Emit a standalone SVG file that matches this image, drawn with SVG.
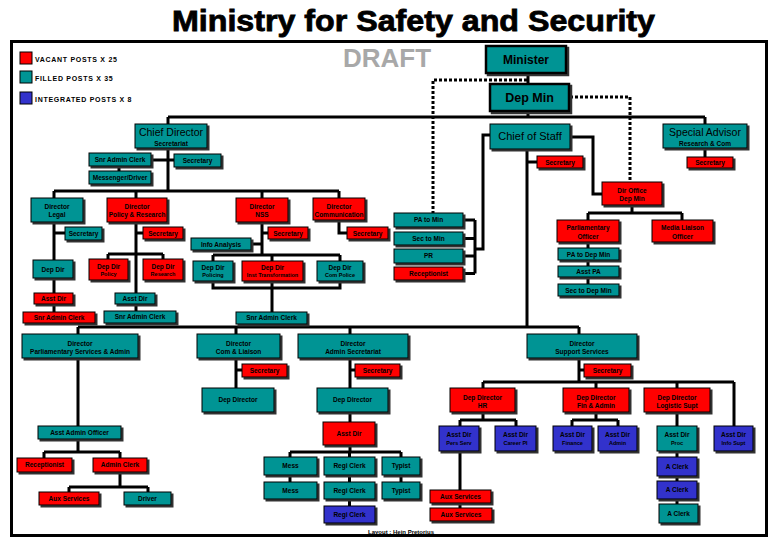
<svg xmlns="http://www.w3.org/2000/svg" width="780" height="540" viewBox="0 0 780 540">
<defs>
<filter id="ds" x="-10%" y="-10%" width="130%" height="150%">
<feDropShadow dx="2" dy="2" stdDeviation="0.3" flood-color="#333" flood-opacity="1"/>
</filter>
</defs>
<style>
.b{stroke:#000;stroke-width:1;filter:url(#ds)}
.r{fill:#ff0000}
.g{fill:#009494}
.u{fill:#3333cc}
.th{stroke-width:2.5}
.t{font-family:"Liberation Sans",Arial,sans-serif;font-weight:bold;font-size:6.5px;text-anchor:middle;fill:#000}
.s{font-size:5.5px}
.m{font-size:6.5px}
.big{font-weight:normal;font-size:10.5px}
.hd{font-size:12px}
.lg{font-family:"Liberation Sans",Arial,sans-serif;font-weight:bold;font-size:7px;letter-spacing:0.7px;fill:#000}
.ln{fill:none;stroke:#000;stroke-width:3;stroke-linejoin:miter}
.dt{fill:none;stroke:#000;stroke-width:3;stroke-dasharray:3 2}
</style>
<rect width="780" height="540" fill="#fff"/>
<text x="413.5" y="31" textLength="483" lengthAdjust="spacingAndGlyphs" font-family="'Liberation Sans',Arial,sans-serif" font-weight="bold" font-size="29" stroke="#000" stroke-width="0.8" text-anchor="middle">Ministry for Safety and Security</text>
<rect x="11.5" y="41.5" width="755" height="494" fill="none" stroke="#000" stroke-width="3"/>
<text x="343" y="67" font-family="'Liberation Sans',Arial,sans-serif" font-weight="bold" font-size="26" fill="#a8a8a8">DRAFT</text>
<g id="legend">
<rect x="20" y="52" width="12" height="12" class="r" stroke="#000"/>
<text x="35" y="62" class="lg">VACANT POSTS X 25</text>
<rect x="20" y="71" width="12" height="12" class="g" stroke="#000"/>
<text x="35" y="81" class="lg">FILLED POSTS X 35</text>
<rect x="20" y="92" width="12" height="12" class="u" stroke="#000"/>
<text x="35" y="102" class="lg">INTEGRATED POSTS X 8</text>
</g>
<g id="connectors">
<path class="dt" d="M527,80 H433 V213 M570,97 H630 V182"/>
<path class="ln" d="M528,73 V84 M528,111 V117 M168,117 H705 M168,117 V124 M705,117 V124
M490,135 H483 V249 H475 M475,220 V273.5 M463,220 H475 M463,238.5 H475 M463,256 H475 M463,273.5 H475
M527,149 V327 M527,162 H537 M570,137 H593 V194 H602
M632,205 V213 M588,213 H682 M588,213 V220 M682,213 V220 M588,242 V284 M705,148 V157
M168,148 V191 M151,160 H174 M119,166 V171
M54,191 H339 M54,191 V198 M136,191 V198 M262,191 V198 M339,191 V198
M54,222 V312 M54,233 H65
M136,222 V311 M136,233 H143 M108,254 H163 M108,254 V259 M163,254 V259
M262,222 V255 M262,233 H268 M251,244 H262 M213,255 H340 M213,255 V261 M272,255 V261 M340,255 V261
M213,281 V288 H340 V281 M272,281 V312
M339,220 V233 H347
M78,327 H579 M78,327 V334 M236,327 V334 M350,327 V334 M579,327 V334
M78,358 V452 M44,452 H120 M44,452 V458 M120,452 V487 M69,487 H148 M69,487 V492 M148,487 V492
M236,358 V388 M236,370 H242
M350,358 V452 M350,370 H355 M290,452 H401 M290,452 V482 M349.5,452 V506 M401,452 V482
M579,358 V382 M579,370 H584 M483,382 H734 M483,382 V420 M596,382 V420 M677,382 V504 M734,382 V426
M460,420 H516 M460,420 V508 M516,420 V426 M572,420 H618 M572,420 V426 M618,420 V426"/>
</g>
<g id="minister"><rect class="b g th" x="486" y="46" width="80" height="27"/><text class="t hd" x="526" y="64">Minister</text></g>
<g id="depmin"><rect class="b g th" x="490" y="84" width="79" height="27"/><text class="t hd" style="font-size:12.5px" x="529.5" y="102">Dep Min</text></g>
<g id="chiefdir"><rect class="b g" x="135" y="124" width="72" height="24"/><text class="t big" x="171" y="136">Chief Director</text><text class="t m" x="171" y="145.5">Secretariat</text></g>
<g id="cos"><rect class="b g" x="490" y="124" width="80" height="25"/><text class="t big" style="font-size:11px" x="530" y="140">Chief of Staff</text></g>
<g id="specadv"><rect class="b g" x="663" y="124" width="84" height="24"/><text class="t big" x="705" y="136">Special Advisor</text><text class="t m" x="705" y="145.5">Research &amp; Com</text></g>
<g id="cd-sac"><rect class="b g" x="89" y="153" width="62" height="13"/><text class="t" x="120" y="162">Snr Admin Clerk</text></g>
<g id="cd-sec"><rect class="b g" x="174" y="154" width="47" height="13"/><text class="t" x="197.5" y="163">Secretary</text></g>
<g id="cd-msg"><rect class="b g" x="89" y="171" width="62" height="13"/><text class="t" x="120" y="180">Messenger/Driver</text></g>
<g id="cos-sec"><rect class="b r" x="537" y="156" width="46" height="12"/><text class="t" x="560" y="164.5">Secretary</text></g>
<g id="sa-sec"><rect class="b r" x="687" y="157" width="46" height="11"/><text class="t" x="710" y="165">Secretary</text></g>
<g id="dir-office"><rect class="b r" x="602" y="182" width="60" height="23"/><text class="t" x="632" y="192.5">Dir Office</text><text class="t" x="632" y="200.5">Dep Min</text></g>
<g id="dir-legal"><rect class="b g" x="31" y="198" width="52" height="24"/><text class="t" x="57" y="209">Director</text><text class="t" x="57" y="217">Legal</text></g>
<g id="dir-policy"><rect class="b r" x="107" y="198" width="60" height="24"/><text class="t" x="137" y="209">Director</text><text class="t" x="137" y="217">Policy &amp; Research</text></g>
<g id="dir-nss"><rect class="b r" x="236" y="198" width="52" height="24"/><text class="t" x="262" y="209">Director</text><text class="t" x="262" y="217">NSS</text></g>
<g id="dir-comm"><rect class="b r" x="313" y="198" width="52" height="22"/><text class="t" x="339" y="208.5">Director</text><text class="t" x="339" y="216.5">Communication</text></g>
<g id="legal-sec"><rect class="b g" x="65" y="227" width="37" height="13"/><text class="t" x="83.5" y="236">Secretary</text></g>
<g id="policy-sec"><rect class="b r" x="143" y="227" width="40" height="12"/><text class="t" x="163" y="235.5">Secretary</text></g>
<g id="nss-sec"><rect class="b r" x="268" y="227" width="40" height="12"/><text class="t" x="288" y="235.5">Secretary</text></g>
<g id="comm-sec"><rect class="b r" x="347" y="227" width="41" height="12"/><text class="t" x="367.5" y="235.5">Secretary</text></g>
<g id="info-analysis"><rect class="b g" x="191" y="238" width="60" height="12"/><text class="t" x="221" y="246.5">Info Analysis</text></g>
<g id="pa-min"><rect class="b g" x="394" y="213" width="69" height="14"/><text class="t" x="428.5" y="222.3">PA to Min</text></g>
<g id="sec-min"><rect class="b g" x="394" y="232" width="69" height="13"/><text class="t" x="428.5" y="240.8">Sec to Min</text></g>
<g id="pr"><rect class="b g" x="394" y="249" width="69" height="14"/><text class="t" x="428.5" y="258.3">PR</text></g>
<g id="recep-min"><rect class="b r" x="394" y="267" width="69" height="13"/><text class="t" x="428.5" y="275.8">Receptionist</text></g>
<g id="parl-off"><rect class="b r" x="557" y="220" width="62" height="22"/><text class="t" x="588" y="229.5">Parliamentary</text><text class="t" x="588" y="238.5">Officer</text></g>
<g id="media-off"><rect class="b r" x="652" y="220" width="61" height="22"/><text class="t" x="682.5" y="229.5">Media Liaison</text><text class="t" x="682.5" y="238.5">Officer</text></g>
<g id="pa-depmin"><rect class="b g" x="558" y="248" width="61" height="12"/><text class="t" x="588.5" y="256.5">PA to Dep Min</text></g>
<g id="asst-pa"><rect class="b g" x="558" y="266" width="61" height="11"/><text class="t" x="588.5" y="274">Asst PA</text></g>
<g id="sec-depmin"><rect class="b g" x="558" y="284" width="61" height="12"/><text class="t" x="588.5" y="292.5">Sec to Dep Min</text></g>
<g id="legal-depdir"><rect class="b g" x="33" y="260" width="40" height="18"/><text class="t" x="53" y="271.5">Dep Dir</text></g>
<g id="policy-depdir"><rect class="b r" x="89" y="259" width="39" height="21"/><text class="t" x="108.5" y="268.5">Dep Dir</text><text class="t s" x="108.5" y="276">Policy</text></g>
<g id="research-depdir"><rect class="b r" x="143" y="259" width="40" height="21"/><text class="t" x="163" y="268.5">Dep Dir</text><text class="t s" x="163" y="276">Research</text></g>
<g id="nss-policing"><rect class="b g" x="193" y="261" width="40" height="20"/><text class="t" x="213" y="270">Dep Dir</text><text class="t s" x="213" y="277">Policing</text></g>
<g id="nss-inst"><rect class="b r" x="242" y="261" width="61" height="20"/><text class="t" x="272.5" y="270">Dep Dir</text><text class="t s" x="272.5" y="277">Inst Transformation</text></g>
<g id="nss-compol"><rect class="b g" x="317" y="261" width="46" height="20"/><text class="t" x="340" y="270">Dep Dir</text><text class="t s" x="340" y="277">Com Police</text></g>
<g id="legal-asst"><rect class="b r" x="34" y="293" width="39" height="11"/><text class="t" x="53.5" y="300.8">Asst Dir</text></g>
<g id="legal-sac"><rect class="b r" x="23" y="312" width="72" height="11"/><text class="t" x="59" y="319.8">Snr Admin Clerk</text></g>
<g id="policy-asst"><rect class="b g" x="115" y="293" width="40" height="11"/><text class="t" x="135" y="300.8">Asst Dir</text></g>
<g id="policy-sac"><rect class="b g" x="104" y="311" width="72" height="12"/><text class="t" x="140" y="319.3">Snr Admin Clerk</text></g>
<g id="nss-sac"><rect class="b g" x="236" y="312" width="71" height="12"/><text class="t" x="271.5" y="320.3">Snr Admin Clerk</text></g>
<g id="dir-parl"><rect class="b g" x="22" y="334" width="116" height="24"/><text class="t" x="80" y="345.5">Director</text><text class="t" x="80" y="353.5">Parliamentary Services &amp; Admin</text></g>
<g id="dir-com"><rect class="b g" x="197" y="334" width="83" height="24"/><text class="t" x="238.5" y="345.5">Director</text><text class="t" x="238.5" y="353.5">Com &amp; Liaison</text></g>
<g id="dir-adminsec"><rect class="b g" x="298" y="334" width="110" height="24"/><text class="t" x="353" y="345.5">Director</text><text class="t" x="353" y="353.5">Admin Secretariat</text></g>
<g id="dir-support"><rect class="b g" x="527" y="334" width="110" height="24"/><text class="t" x="582" y="345.5">Director</text><text class="t" x="582" y="353.5">Support Services</text></g>
<g id="com-sec"><rect class="b r" x="242" y="364" width="45" height="13"/><text class="t" x="264.5" y="372.8">Secretary</text></g>
<g id="adm-sec"><rect class="b r" x="355" y="364" width="45" height="13"/><text class="t" x="377.5" y="372.8">Secretary</text></g>
<g id="sup-sec"><rect class="b r" x="584" y="364" width="47" height="13"/><text class="t" x="607.5" y="372.8">Secretary</text></g>
<g id="com-depdir"><rect class="b g" x="202" y="388" width="72" height="24"/><text class="t" x="238" y="402.3">Dep Director</text></g>
<g id="adm-depdir"><rect class="b g" x="317" y="388" width="71" height="24"/><text class="t" x="352.5" y="402.3">Dep Director</text></g>
<g id="hr-depdir"><rect class="b r" x="450" y="388" width="65" height="24"/><text class="t" x="482.5" y="399.5">Dep Director</text><text class="t" x="482.5" y="407.5">HR</text></g>
<g id="fin-depdir"><rect class="b r" x="563" y="388" width="66" height="24"/><text class="t" x="596" y="399.5">Dep Director</text><text class="t" x="596" y="407.5">Fin &amp; Admin</text></g>
<g id="log-depdir"><rect class="b r" x="644" y="388" width="66" height="24"/><text class="t" x="677" y="399.5">Dep Director</text><text class="t" x="677" y="407.5">Logistic Supt</text></g>
<g id="asst-admin-off"><rect class="b g" x="38" y="426" width="83" height="13"/><text class="t" x="79.5" y="434.8">Asst Admin Officer</text></g>
<g id="adm-asstdir"><rect class="b r" x="323" y="422" width="52" height="23"/><text class="t" x="349" y="435.8">Asst Dir</text></g>
<g id="hr-pers"><rect class="b u" x="439" y="426" width="40" height="25"/><text class="t" x="459" y="436.5">Asst Dir</text><text class="t s" x="459" y="445">Pers Serv</text></g>
<g id="hr-career"><rect class="b u" x="495" y="426" width="41" height="25"/><text class="t" x="515.5" y="436.5">Asst Dir</text><text class="t s" x="515.5" y="445">Career Pl</text></g>
<g id="fin-finance"><rect class="b u" x="553" y="426" width="39" height="25"/><text class="t" x="572.5" y="436.5">Asst Dir</text><text class="t s" x="572.5" y="445">Finance</text></g>
<g id="fin-admin"><rect class="b u" x="598" y="426" width="39" height="25"/><text class="t" x="617.5" y="436.5">Asst Dir</text><text class="t s" x="617.5" y="445">Admin</text></g>
<g id="log-proc"><rect class="b g" x="657" y="426" width="40" height="25"/><text class="t" x="677" y="436.5">Asst Dir</text><text class="t s" x="677" y="445">Proc</text></g>
<g id="info-supt"><rect class="b u" x="714" y="426" width="39" height="25"/><text class="t" x="733.5" y="436.5">Asst Dir</text><text class="t s" x="733.5" y="445">Info Supt</text></g>
<g id="parl-recep"><rect class="b r" x="17" y="458" width="55" height="14"/><text class="t" x="44.5" y="467.3">Receptionist</text></g>
<g id="parl-adminclerk"><rect class="b r" x="93" y="458" width="54" height="14"/><text class="t" x="120" y="467.3">Admin Clerk</text></g>
<g id="parl-aux"><rect class="b r" x="39" y="492" width="60" height="13"/><text class="t" x="69" y="500.8">Aux Services</text></g>
<g id="parl-driver"><rect class="b g" x="124" y="492" width="47" height="13"/><text class="t" x="147.5" y="500.8">Driver</text></g>
<g id="mess1"><rect class="b g" x="264" y="457" width="53" height="18"/><text class="t" x="290.5" y="468.3">Mess</text></g>
<g id="regi1"><rect class="b g" x="324" y="457" width="51" height="18"/><text class="t" x="349.5" y="468.3">Regi Clerk</text></g>
<g id="typist1"><rect class="b g" x="382" y="457" width="38" height="18"/><text class="t" x="401" y="468.3">Typist</text></g>
<g id="mess2"><rect class="b g" x="264" y="482" width="53" height="17"/><text class="t" x="290.5" y="492.8">Mess</text></g>
<g id="regi2"><rect class="b g" x="324" y="482" width="51" height="17"/><text class="t" x="349.5" y="492.8">Regi Clerk</text></g>
<g id="typist2"><rect class="b g" x="382" y="482" width="38" height="17"/><text class="t" x="401" y="492.8">Typist</text></g>
<g id="regi3"><rect class="b u" x="324" y="506" width="51" height="17"/><text class="t" x="349.5" y="516.8">Regi Clerk</text></g>
<g id="hr-aux1"><rect class="b r" x="430" y="490" width="61" height="13"/><text class="t" x="460.5" y="498.8">Aux Services</text></g>
<g id="hr-aux2"><rect class="b r" x="430" y="508" width="62" height="13"/><text class="t" x="461" y="516.8">Aux Services</text></g>
<g id="aclerk1"><rect class="b u" x="657" y="457" width="40" height="19"/><text class="t" x="677" y="468.8">A Clerk</text></g>
<g id="aclerk2"><rect class="b u" x="657" y="481" width="40" height="18"/><text class="t" x="677" y="492.3">A Clerk</text></g>
<g id="aclerk3"><rect class="b g" x="659" y="504" width="39" height="19"/><text class="t" x="678.5" y="515.8">A Clerk</text></g>
<text x="368" y="533.5" font-family="'Liberation Sans',Arial,sans-serif" font-weight="bold" font-size="6px">Layout : Hein Pretorius</text>
</svg>
